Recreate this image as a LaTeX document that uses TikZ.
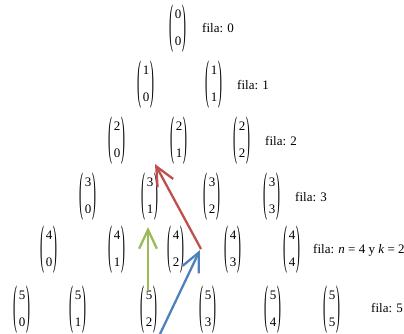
\documentclass[tikz,border=0pt]{standalone}
\usepackage{graphicx}
\usepackage{fontspec}
\setmainfont{Liberation Serif}
\usetikzlibrary{arrows.meta}
\definecolor{cred}{HTML}{C0504D}
\definecolor{cgreen}{HTML}{9BBB59}
\definecolor{cblue}{HTML}{4F81BD}
\newcommand{\tallparen}[1]{\vcenter{\hbox{\scalebox{0.9}[4.1]{#1}}}}
\newcommand{\bnm}[2]{$\tallparen{(}\mkern2mu\vcenter{\hbox{\begin{tabular}{@{}c@{}}#1\\[11pt]#2\end{tabular}}}\mkern2mu\tallparen{)}$}
\begin{document}
\begin{tikzpicture}[x=1pt,y=-1pt,
  every node/.style={font=\fontsize{13}{15.6}\selectfont, inner sep=0pt},
  bn/.style={},
  lab/.style={anchor=west},
  arr/.style={line width=2.3pt, -{Straight Barb[angle=50:21pt]}}]
\useasboundingbox (0,0) rectangle (404,334);
% row 0
\node[bn] (b00) at (178,29) {\bnm{0}{0}};
\node[lab] (f0) at (202,28) {fila: 0};
% row 1
\node[bn] (b10) at (146,85) {\bnm{1}{0}};
\node[bn] (b11) at (214,85) {\bnm{1}{1}};
\node[lab] (f1) at (237,85) {fila: 1};
% row 2
\node[bn] (b20) at (117,141) {\bnm{2}{0}};
\node[bn] (b21) at (179,141) {\bnm{2}{1}};
\node[bn] (b22) at (242,141) {\bnm{2}{2}};
\node[lab] (f2) at (265,141) {fila: 2};
% row 3
\node[bn] (b30) at (88,197) {\bnm{3}{0}};
\node[bn] (b31) at (150,197) {\bnm{3}{1}};
\node[bn] (b32) at (212,197) {\bnm{3}{2}};
\node[bn] (b33) at (272,197) {\bnm{3}{3}};
\node[lab] (f3) at (295,197) {fila: 3};
% row 4
\node[bn] (b40) at (49,250) {\bnm{4}{0}};
\node[bn] (b41) at (117,250) {\bnm{4}{1}};
\node[bn] (b42) at (176,250) {\bnm{4}{2}};
\node[bn] (b43) at (233,250) {\bnm{4}{3}};
\node[bn] (b44) at (292,250) {\bnm{4}{4}};
\node[lab] (f4) at (313,250) {fila: \textit{n} = 4 y \textit{k} = 2};
% row 5
\node[bn] (b50) at (22,310) {\bnm{5}{0}};
\node[bn] (b51) at (78,310) {\bnm{5}{1}};
\node[bn] (b52) at (149,310) {\bnm{5}{2}};
\node[bn] (b53) at (208,310) {\bnm{5}{3}};
\node[bn] (b54) at (273,310) {\bnm{5}{4}};
\node[bn] (b55) at (332,310) {\bnm{5}{5}};
\node[lab] (f5) at (371,308) {fila: 5};
% arrows
\coordinate (rs) at (201,249);
\coordinate (rt) at (155,164);
\coordinate (gs) at (148,291);
\coordinate (gt) at (148,227);
\coordinate (bs) at (160,334);
\coordinate (bt) at (200,250);
\draw[arr, cblue] (bs) -- (bt);
\draw[arr, cgreen] (gs) -- (gt);
\draw[arr, cred] (rs) -- (rt);
\end{tikzpicture}
\end{document}
